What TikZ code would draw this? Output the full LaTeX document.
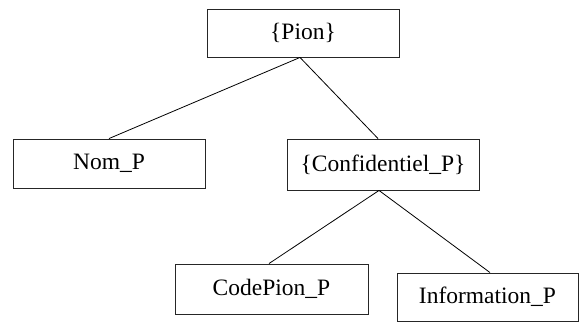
\documentclass[tikz,border=0pt]{standalone}
\usepackage{fontspec}
\setmainfont{Liberation Serif}
\usetikzlibrary{calc}
\begin{document}
\begin{tikzpicture}[x=1pt,y=-1pt,
  box/.style={draw=black!85, line width=0.9pt, minimum width=192pt, minimum height=48pt,
    inner sep=0pt, font=\fontsize{23.5}{28}\selectfont},
  link/.style={draw=black, line width=0.8pt}]
\useasboundingbox (0,0) rectangle (579,322);
\node[box] (pion) at (303,33) {\{Pion\}};
\node[box, minimum height=49pt] (nom) at (109,163.5) {Nom\_P};
\node[box, minimum height=51pt] (conf) at (383,164.5) {\{Confidentiel\_P\}};
\node[box, minimum width=193pt, minimum height=50pt] (code) at (271.5,289) {CodePion\_P};
\node[box, minimum width=181pt] (info) at (487.5,297) {Information\_P};
\draw[link] ($(pion.south)+(-3,0)$) -- (nom.north);
\draw[link] ($(pion.south)+(-3,0)$) -- ($(conf.north)+(-5,0)$);
\draw[link] ($(conf.south)+(-4,0)$) -- ($(code.north)+(-2.5,0)$);
\draw[link] ($(conf.south)+(-4,0)$) -- ($(info.north)+(2.5,0)$);
\end{tikzpicture}
\end{document}
